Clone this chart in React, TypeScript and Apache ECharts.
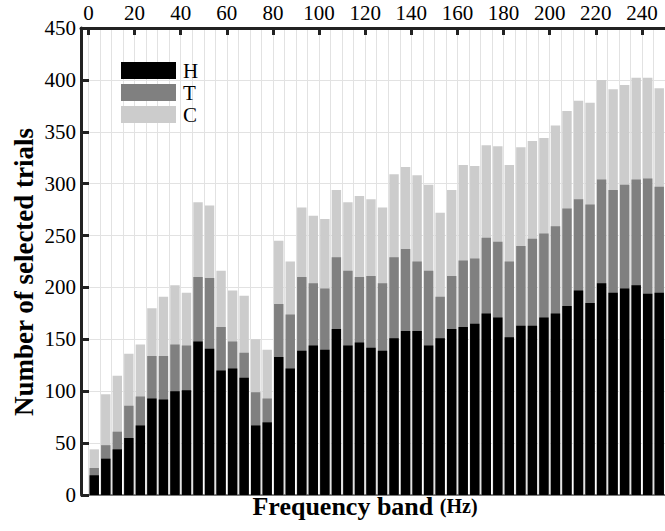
import React, { useEffect, useRef } from "react";
import * as echarts from "echarts";

const bands = [0, 5, 10, 15, 20, 25, 30, 35, 40, 45, 50, 55, 60, 65, 70, 75, 80, 85, 90, 95, 100, 105, 110, 115, 120, 125, 130, 135, 140, 145, 150, 155, 160, 165, 170, 175, 180, 185, 190, 195, 200, 205, 210, 215, 220, 225, 230, 235, 240, 245];
const bandWidth = 5;
const xTickValues = [0, 20, 40, 60, 80, 100, 120, 140, 160, 180, 200, 220, 240];
const valuesH = [19, 35, 44, 55, 67, 93, 92, 100, 101, 148, 141, 120, 122, 113, 67, 70, 133, 122, 139, 144, 140, 160, 144, 147, 142, 139, 151, 158, 158, 144, 151, 160, 162, 165, 175, 171, 152, 163, 163, 171, 175, 182, 197, 185, 204, 195, 199, 202, 194, 195];
const valuesT = [7, 13, 17, 31, 28, 41, 42, 45, 43, 62, 68, 42, 26, 24, 32, 23, 51, 52, 71, 60, 59, 69, 72, 63, 69, 65, 78, 79, 67, 72, 40, 51, 64, 63, 73, 73, 73, 77, 84, 81, 84, 94, 88, 95, 100, 99, 100, 102, 111, 102];
const valuesC = [18, 49, 54, 50, 50, 46, 57, 57, 51, 72, 70, 54, 49, 55, 51, 47, 61, 51, 67, 65, 67, 65, 66, 78, 74, 73, 80, 79, 83, 83, 81, 83, 92, 89, 89, 92, 93, 95, 94, 92, 97, 94, 95, 98, 96, 97, 96, 98, 97, 95];
const seriesNames = ["H", "T", "C"];
const seriesColors = ["#000000", "#808080", "#cccccc"];

const SERIF = "Liberation Serif";

export default function App() {
  const ref = useRef<HTMLDivElement>(null);
  useEffect(() => {
    if (!ref.current) return;
    const chart = echarts.init(ref.current, null, { renderer: "svg" });
    const left = 81;
    const top = 28;
    const height = 467;
    const pxPerUnit = 578 / 250;
    const xMin = -7.5 / pxPerUnit;
    const width = (250 - xMin) * pxPerUnit;

    // stacked tops built from the three series (C drawn behind, H in front)
    const cumH = valuesH;
    const cumT = valuesH.map((h, i) => h + valuesT[i]);
    const cumC = cumT.map((v, i) => v + valuesC[i]);
    const centers = bands.map((b) => b + bandWidth / 2);
    const layers = [
      { name: "C", color: seriesColors[2], data: cumC },
      { name: "T", color: seriesColors[1], data: cumT },
      { name: "H", color: seriesColors[0], data: cumH },
    ];

    chart.setOption({
      animation: false,
      textStyle: { fontFamily: SERIF },
      grid: { left, top, width, height, containLabel: false },
      legend: {
        orient: "vertical",
        left: 121,
        top: 60,
        padding: 0,
        itemWidth: 55,
        itemHeight: 17,
        itemGap: 1,
        icon: "rect",
        data: seriesNames,
        textStyle: { fontFamily: SERIF, fontSize: 21, color: "#000", padding: [0, 0, 0, 2] },
      },
      xAxis: [
        {
          type: "value",
          position: "top",
          min: xMin,
          max: 250,
          axisLine: { show: true, onZero: false, lineStyle: { color: "#222", width: 3 } },
          axisTick: {
            show: true,
            inside: true,
            length: 7,
            customValues: xTickValues,
            lineStyle: { color: "#222", width: 3 },
          },
          axisLabel: {
            show: true,
            customValues: xTickValues,
            fontFamily: SERIF,
            fontSize: 21,
            color: "#000",
            margin: 5,
          },
          splitLine: { show: false },
        },
        {
          type: "value",
          position: "bottom",
          min: xMin,
          max: 250,
          axisLine: { show: true, onZero: false, lineStyle: { color: "#555", width: 1.5 } },
          axisTick: { show: false, customValues: bands },
          axisLabel: { show: false, customValues: bands },
          splitLine: { show: true, lineStyle: { color: "#e2e2e2", width: 1 } },
        },
      ],
      yAxis: {
        type: "value",
        min: 0,
        max: 450,
        interval: 50,
        axisLine: { show: true, onZero: false, lineStyle: { color: "#222", width: 3 } },
        axisTick: { show: true, inside: true, length: 8, lineStyle: { color: "#222", width: 3 } },
        axisLabel: { margin: 5, fontFamily: SERIF, fontSize: 21, color: "#000" },
        splitLine: { show: true, lineStyle: { color: "#e2e2e2", width: 1 } },
      },
      series: layers.map((layer) => ({
        name: layer.name,
        type: "bar",
        xAxisIndex: 1,
        barWidth: 9.4,
        barGap: "-100%",
        itemStyle: { color: layer.color },
        data: centers.map((c, i) => [c, layer.data[i]]),
      })),
      graphic: [
        {
          type: "text",
          x: 24,
          y: 272,
          rotation: Math.PI / 2,
          style: {
            text: "Number of selected trials",
            fontFamily: SERIF,
            fontWeight: "bold",
            fontSize: 27,
            fill: "#000",
            align: "center",
            verticalAlign: "middle",
          },
        },
        {
          type: "text",
          x: 365,
          y: 506,
          style: {
            text: "{a|Frequency band }{b|(Hz)}",
            fill: "#000",
            align: "center",
            verticalAlign: "middle",
            rich: {
              a: { fontFamily: SERIF, fontWeight: "bold", fontSize: 26, fill: "#000" },
              b: { fontFamily: SERIF, fontWeight: "bold", fontSize: 20, fill: "#000" },
            },
          },
        },
      ],
    });
    return () => chart.dispose();
  }, []);
  return (
    <div
      ref={ref}
      style={{ position: "fixed", left: 0, top: 0, width: 665, height: 531, background: "#fff" }}
    />
  );
}
